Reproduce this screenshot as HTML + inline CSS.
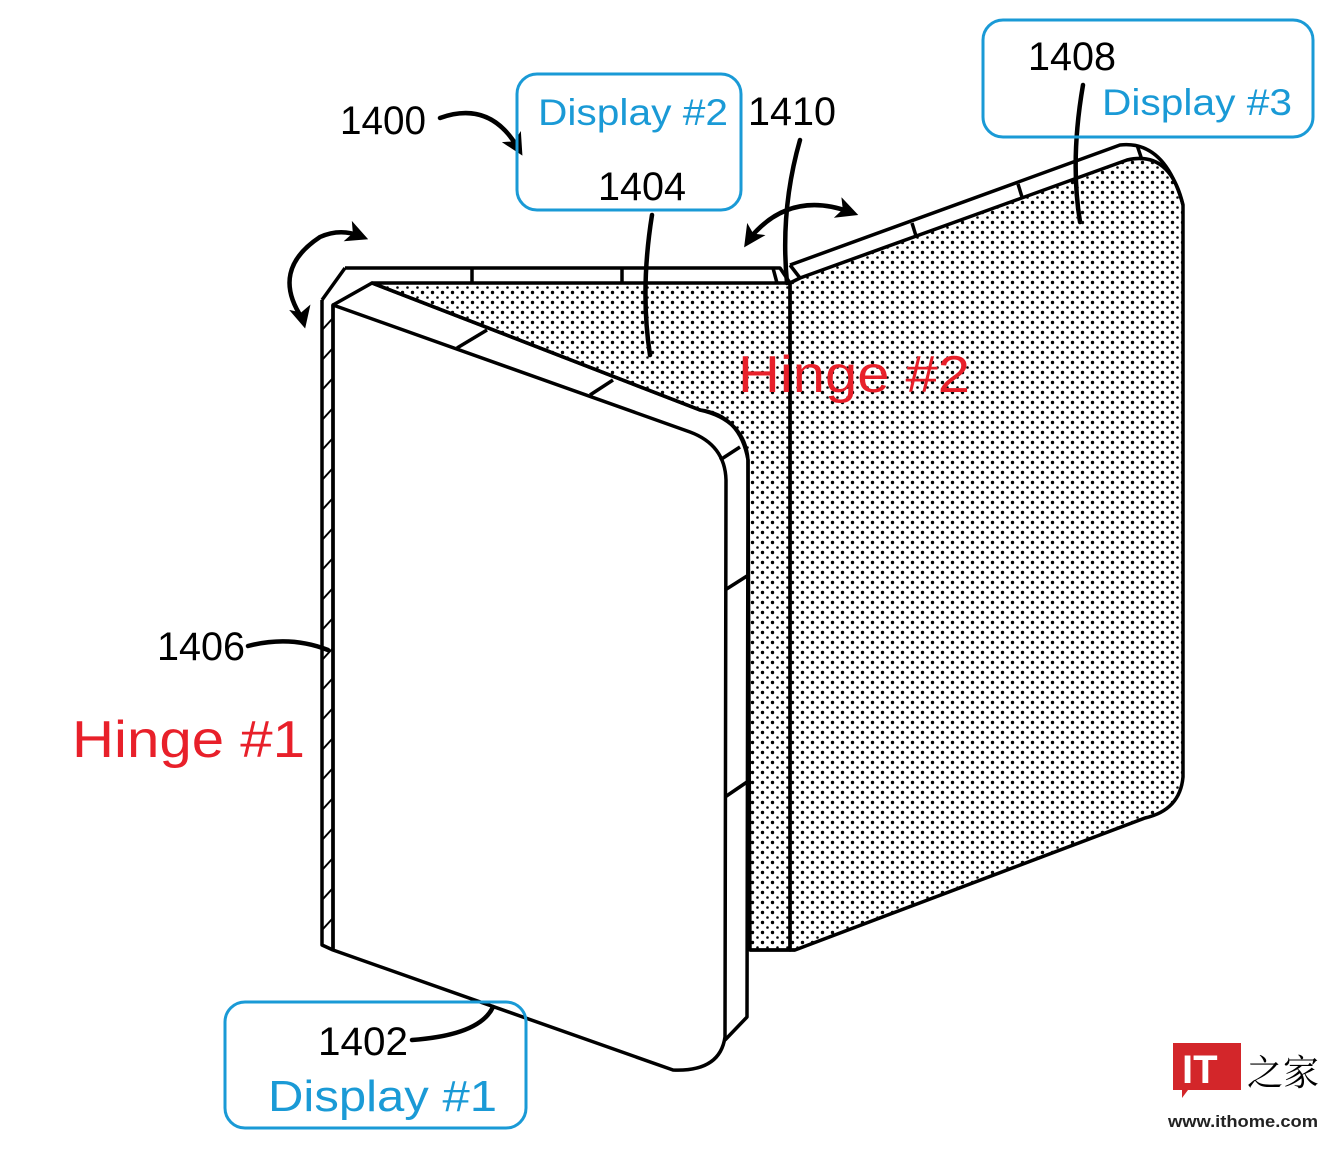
<!DOCTYPE html>
<html><head><meta charset="utf-8"><style>
html,body{margin:0;padding:0;background:#fff;width:1340px;height:1158px;overflow:hidden}
svg{display:block}
text{font-family:"Liberation Sans",sans-serif}
</style></head><body>
<svg width="1340" height="1158" viewBox="0 0 1340 1158" xmlns="http://www.w3.org/2000/svg">
<defs>
<pattern id="dots" width="10" height="10" patternUnits="userSpaceOnUse">
<circle cx="2.5" cy="2.5" r="1.7" fill="#000"/><circle cx="7.5" cy="7.5" r="1.3" fill="#000"/>
</pattern>
<marker id="ah" markerWidth="22" markerHeight="22" refX="12" refY="10" orient="auto" markerUnits="userSpaceOnUse" viewBox="0 0 20 20">
<path d="M0,0 L20,10 L0,20 L5,10z" fill="#000"/>
</marker>
</defs>
<g fill="none" stroke="#000" stroke-width="3.5" stroke-linejoin="round">
<path d="M790,283 L800,278 L1127,160 Q1170,150 1183,205 L1183,777 Q1180,810 1145,818 L795,950 L790,950 Z" fill="url(#dots)"/>
<path d="M790,265 L1120,145 Q1165,140 1183,205"/>
<line x1="790" y1="265" x2="800" y2="278"/>
<line x1="912" y1="223" x2="916" y2="236"/>
<line x1="1018" y1="184" x2="1022" y2="197"/>
<line x1="1137" y1="145" x2="1142" y2="160"/>
<path d="M372,283 L790,283 L790,950 L750,950 L748,460 Q740,415 700,410 Z" fill="url(#dots)"/>
<path d="M345,268 L780,268 L790,283"/>
<line x1="472" y1="268" x2="472" y2="283"/>
<line x1="622" y1="268" x2="622" y2="283"/>
<line x1="773" y1="268" x2="777" y2="283"/>
<line x1="750" y1="950" x2="795" y2="950"/>
<path d="M333,305 L690,432 Q725,445 726,480 L725,1037 Q720,1072 673,1070 L333,950 Z" fill="#fff"/>
<path d="M322,300 L322,945 L333,950"/>
<path d="M333,305 L333,950"/>
<path d="M322,300 L345,268"/>
<path d="M333,305 L372,283 L700,410 Q745,420 748,460 L747,1017 L725,1040"/>
<line x1="457" y1="348" x2="487" y2="330"/>
<line x1="590" y1="395" x2="613" y2="380"/>
<line x1="720" y1="460" x2="740" y2="447"/>
<line x1="725" y1="590" x2="747" y2="576"/>
<line x1="725" y1="797" x2="747" y2="782"/>
</g>
<g stroke="#000" stroke-width="2">
<path d="M322,330 L333,318 M322,360 L333,348 M322,390 L333,378 M322,420 L333,408 M322,450 L333,438 M322,480 L333,468 M322,510 L333,498 M322,540 L333,528 M322,570 L333,558 M322,600 L333,588 M322,630 L333,618 M322,660 L333,648 M322,690 L333,678 M322,720 L333,708 M322,750 L333,738 M322,780 L333,768 M322,810 L333,798 M322,840 L333,828 M322,870 L333,858 M322,900 L333,888 M322,930 L333,918"/>
</g>
<g fill="none" stroke="#000" stroke-width="4.5" stroke-linecap="round">
<path d="M440,118 Q490,100 518,148" marker-end="url(#ah)"/>
<path d="M652,215 Q640,290 650,355"/>
<path d="M800,140 Q780,210 787,283"/>
<path d="M1083,85 Q1070,160 1080,222"/>
<path d="M248,646 Q290,635 328,650"/>
<path d="M412,1040 Q480,1035 493,1007"/>
<path d="M302,318 Q270,270 320,237 Q340,228 360,236" marker-end="url(#ah)"/>
<path d="M302,316 L303,320" marker-end="url(#ah)"/>
<path d="M750,238 Q790,190 850,212" marker-end="url(#ah)"/>
<path d="M751,237 L749,240" marker-end="url(#ah)"/>
</g>
<g fill="none" stroke="#1a9ad6" stroke-width="3">
<rect x="517" y="74" width="224" height="136" rx="20"/>
<rect x="983" y="20" width="330" height="117" rx="20"/>
<rect x="225" y="1002" width="301" height="126" rx="20"/>
</g>
<g font-size="40" fill="#000">
<text x="340" y="134" textLength="86" lengthAdjust="spacingAndGlyphs">1400</text>
<text x="598" y="200" textLength="88" lengthAdjust="spacingAndGlyphs">1404</text>
<text x="748" y="125" textLength="88" lengthAdjust="spacingAndGlyphs">1410</text>
<text x="1028" y="70" textLength="88" lengthAdjust="spacingAndGlyphs">1408</text>
<text x="157" y="660" textLength="88" lengthAdjust="spacingAndGlyphs">1406</text>
<text x="318" y="1055" textLength="90" lengthAdjust="spacingAndGlyphs">1402</text>
</g>
<g fill="#1a9ad6">
<text x="538" y="125" font-size="37" textLength="190" lengthAdjust="spacingAndGlyphs">Display #2</text>
<text x="1102" y="115" font-size="37" textLength="190" lengthAdjust="spacingAndGlyphs">Display #3</text>
<text x="268" y="1111" font-size="44" textLength="229" lengthAdjust="spacingAndGlyphs">Display #1</text>
</g>
<g fill="#e8202a" font-size="52">
<text x="738" y="392" textLength="232" lengthAdjust="spacingAndGlyphs">Hinge #2</text>
<text x="72" y="757" textLength="233" lengthAdjust="spacingAndGlyphs">Hinge #1</text>
</g>
<path d="M1173,1043 H1241 V1090 H1188 L1182,1098 V1090 H1173 Z" fill="#d3262a"/>
<text x="1182" y="1083" font-size="40" font-weight="bold" fill="#fff">IT</text>
<text x="1247" y="1085" font-size="36" fill="#000" style='font-family:"Noto Serif CJK SC","Noto Sans CJK SC",serif'>之家</text>
<text x="1168" y="1127" font-size="17" font-weight="bold" fill="#222" textLength="150" lengthAdjust="spacingAndGlyphs">www.ithome.com</text>
</svg>
</body></html>
